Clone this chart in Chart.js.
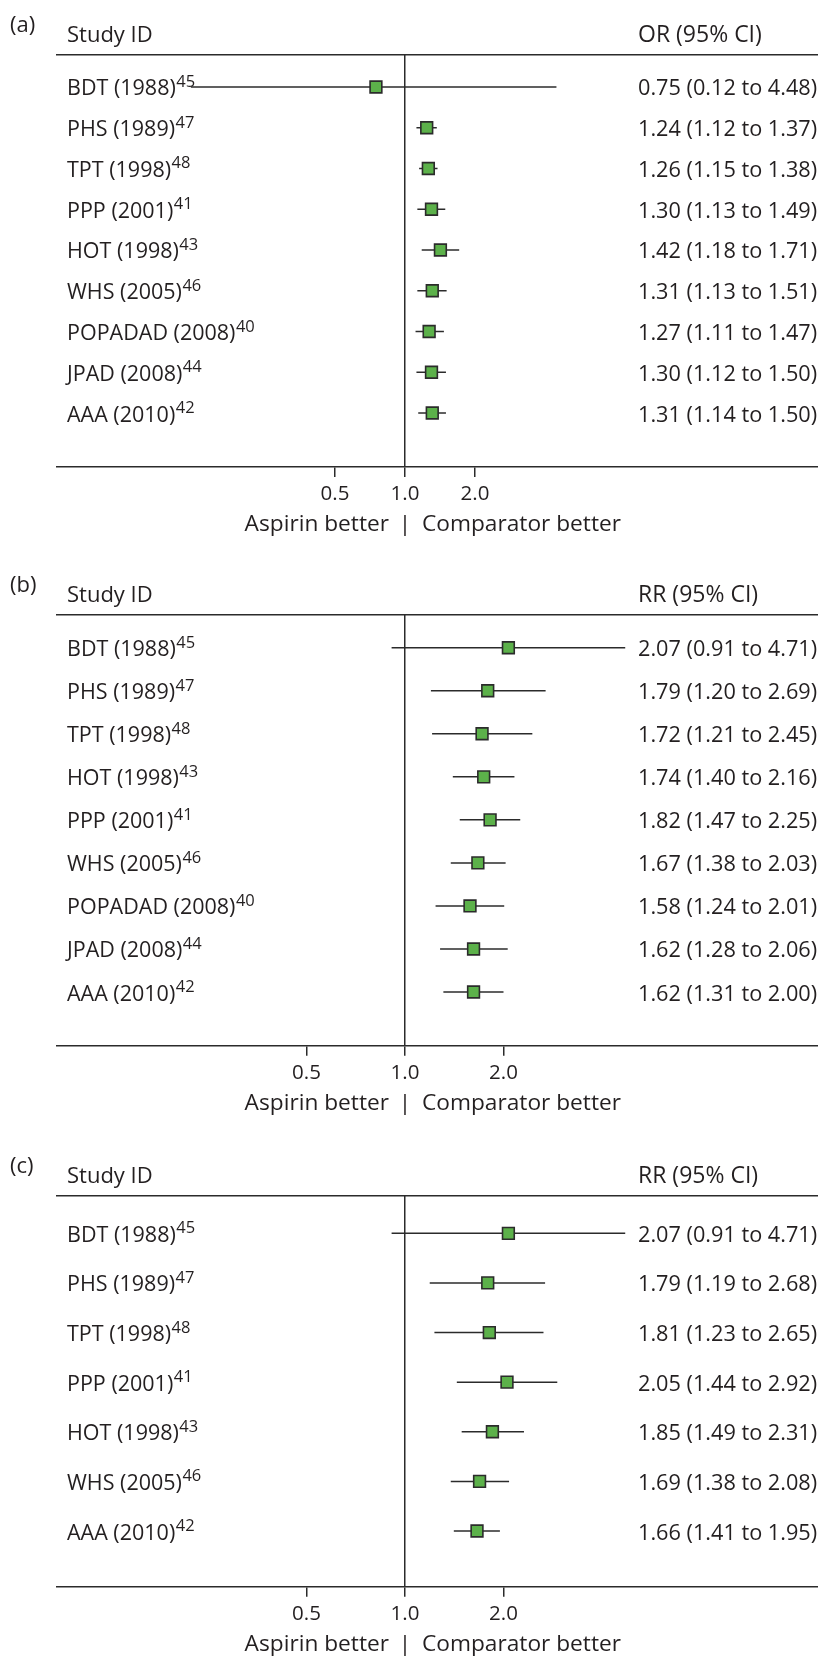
<!DOCTYPE html>
<html>
<head>
<meta charset="utf-8">
<script src="https://cdn.jsdelivr.net/npm/chart.js@4"></script>
<style>
  html, body { margin: 0; padding: 0; background: #fff; }
  body { width: 818px; height: 1656px; position: relative; overflow: hidden; }
  .panel { position: absolute; left: 0; width: 818px; }
</style>
</head>
<body>
<div class="panel" style="top:0;height:560px"><canvas id="chartA"></canvas></div>
<div class="panel" style="top:560px;height:581px"><canvas id="chartB"></canvas></div>
<div class="panel" style="top:1141px;height:515px"><canvas id="chartC"></canvas></div>
<script>
// (a) odds ratios
const studiesA = ['BDT (1988)', 'PHS (1989)', 'TPT (1998)', 'PPP (2001)', 'HOT (1998)', 'WHS (2005)', 'POPADAD (2008)', 'JPAD (2008)', 'AAA (2010)'];
const refsA = ['45', '47', '48', '41', '43', '46', '40', '44', '42'];
const estA = [0.75, 1.24, 1.26, 1.30, 1.42, 1.31, 1.27, 1.30, 1.31];
const lowA = [0.12, 1.12, 1.15, 1.13, 1.18, 1.13, 1.11, 1.12, 1.14];
const highA = [4.48, 1.37, 1.38, 1.49, 1.71, 1.51, 1.47, 1.50, 1.50];

// (b) relative risks
const studiesB = ['BDT (1988)', 'PHS (1989)', 'TPT (1998)', 'HOT (1998)', 'PPP (2001)', 'WHS (2005)', 'POPADAD (2008)', 'JPAD (2008)', 'AAA (2010)'];
const refsB = ['45', '47', '48', '43', '41', '46', '40', '44', '42'];
const estB = [2.07, 1.79, 1.72, 1.74, 1.82, 1.67, 1.58, 1.62, 1.62];
const lowB = [0.91, 1.20, 1.21, 1.40, 1.47, 1.38, 1.24, 1.28, 1.31];
const highB = [4.71, 2.69, 2.45, 2.16, 2.25, 2.03, 2.01, 2.06, 2.00];

// (c) relative risks
const studiesC = ['BDT (1988)', 'PHS (1989)', 'TPT (1998)', 'PPP (2001)', 'HOT (1998)', 'WHS (2005)', 'AAA (2010)'];
const refsC = ['45', '47', '48', '41', '43', '46', '42'];
const estC = [2.07, 1.79, 1.81, 2.05, 1.85, 1.69, 1.66];
const lowC = [0.91, 1.19, 1.23, 1.44, 1.49, 1.38, 1.41];
const highC = [4.71, 2.68, 2.65, 2.92, 2.31, 2.08, 1.95];

const xTickValues = [0.5, 1, 2];

const FONT = '"Open Sans", "Noto Sans", sans-serif';
const INK = '#231f20';
const LINE = '#2b2b2b';

const fmt = v => v.toFixed(2);

// draws the header, study labels (with reference superscripts), values and caption
const forestText = {
  id: 'forestText',
  afterDraw(chart, args, p) {
    const {ctx, chartArea} = chart;
    const y = chart.scales.y, x = chart.scales.x;
    const left = chartArea.left + 10;
    const valX = 638;
    ctx.save();
    ctx.fillStyle = INK;
    ctx.textBaseline = 'alphabetic';
    ctx.textAlign = 'left';

    ctx.font = '22px ' + FONT;
    ctx.fillText(p.letter, 10, chartArea.top - 23.5);
    ctx.fillText('Study ID', left, chartArea.top - 13.5);
    ctx.font = '23px ' + FONT;
    ctx.fillText(p.header, valX, chartArea.top - 13.5);

    p.studies.forEach((s, i) => {
      const py = y.getPixelForValue(i) + 8.5;
      ctx.font = '21.5px ' + FONT;
      ctx.fillText(s, left, py);
      const w = ctx.measureText(s).width;
      ctx.font = '16.5px ' + FONT;
      ctx.fillText(p.refs[i], left + w + 0.5, py - 8.5);
      ctx.font = '21.7px ' + FONT;
      ctx.fillText(fmt(p.est[i]) + ' (' + fmt(p.low[i]) + ' to ' + fmt(p.high[i]) + ')', valX, py);
    });

    const cx = x.getPixelForValue(1);
    const cy = chartArea.bottom + 64;
    ctx.font = '22.7px ' + FONT;
    ctx.textAlign = 'right';
    ctx.fillText('Aspirin better', cx - 16, cy);
    ctx.textAlign = 'center';
    ctx.fillText('|', cx, cy);
    ctx.textAlign = 'left';
    ctx.fillText('Comparator better', cx + 17, cy);
    ctx.restore();
  }
};

function makeForest(id, p) {
  const datasets = [{
    data: p.est.map((v, i) => ({x: v, y: i})),
    pointStyle: 'rect',
    pointRadius: 8.3,
    pointHoverRadius: 8.3,
    pointBackgroundColor: '#5cb14a',
    pointBorderColor: LINE,
    pointBorderWidth: 1.6,
    order: 0
  }];
  // one short line per confidence interval
  p.low.forEach((lo, i) => {
    datasets.push({
      data: [{x: lo, y: i}, {x: p.high[i], y: i}],
      showLine: true,
      borderColor: LINE,
      borderWidth: 1.5,
      pointRadius: 0,
      order: 1
    });
  });

  // 1.0 sits at x=405, the panel runs from x=57 to the right edge
  const xMin = Math.pow(2, (57 - 405) / p.pxPerDoubling);
  const xMax = Math.pow(2, (818 - 405) / p.pxPerDoubling);

  new Chart(document.getElementById(id), {
    type: 'scatter',
    data: {datasets},
    options: {
      responsive: true,
      maintainAspectRatio: false,
      animation: false,
      events: [],
      layout: {autoPadding: false, padding: {left: 57, right: 0, top: 55, bottom: 0}},
      plugins: {legend: {display: false}, tooltip: {enabled: false}, forestText: p},
      scales: {
        x: {
          type: 'logarithmic',
          position: 'bottom',
          min: xMin,
          max: xMax,
          afterBuildTicks: s => { s.ticks = xTickValues.map(v => ({value: v})); },
          afterFit: s => { s.height = p.axisHeight; },
          grid: {
            color: c => (c.tick && c.tick.value === 1) ? LINE : 'rgba(0,0,0,0)',
            tickColor: LINE,
            tickLength: 10,
            lineWidth: 1.5
          },
          border: {display: true, color: LINE, width: 1.5},
          ticks: {
            color: INK,
            font: {family: FONT, size: 20.5},
            padding: 5,
            autoSkip: false,
            maxRotation: 0,
            callback: v => Number(v).toFixed(1)
          }
        },
        xTop: {
          type: 'linear',
          axis: 'x',
          position: 'top',
          grid: {display: false, drawTicks: false},
          border: {display: true, color: LINE, width: 1.5},
          ticks: {display: false},
          afterFit: s => { s.height = 0; }
        },
        y: {type: 'linear', reverse: true, min: p.yMin, max: p.yMax, display: false}
      }
    },
    plugins: [forestText]
  });
}

makeForest('chartA', {
  letter: '(a)', header: 'OR (95% CI)',
  studies: studiesA, refs: refsA, est: estA, low: lowA, high: highA,
  pxPerDoubling: 70, yMin: -0.785, yMax: 9.325, axisHeight: 93
});
makeForest('chartB', {
  letter: '(b)', header: 'RR (95% CI)',
  studies: studiesB, refs: refsB, est: estB, low: lowB, high: highB,
  pxPerDoubling: 98.5, yMin: -0.76, yMax: 9.247, axisHeight: 95.3
});
makeForest('chartC', {
  letter: '(c)', header: 'RR (95% CI)',
  studies: studiesC, refs: refsC, est: estC, low: lowC, high: highC,
  pxPerDoubling: 98.5, yMin: -0.752, yMax: 7.122, axisHeight: 69.3
});
</script>
</body>
</html>
